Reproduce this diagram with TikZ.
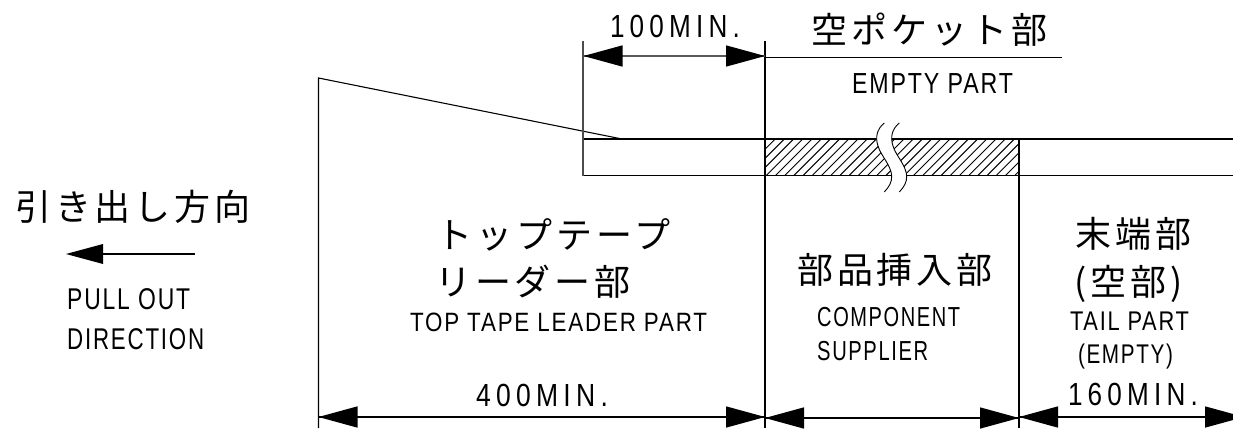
\documentclass[tikz,border=0pt]{standalone}
\usepackage{fontspec}
\usepackage{graphicx}
\setmainfont{Liberation Sans}
\newfontfamily\cjk[LetterSpace=11]{Noto Sans CJK JP}
\newcommand\wtxt[2]{\resizebox{#1pt}{\height}{#2}}
\tikzset{
  x=1pt,y=-1pt,
  line/.style={draw=black,line width=1.1pt},
  dimn/.style={inner sep=0pt,anchor=center,font=\fontsize{32}{32}\selectfont\addfontfeature{LetterSpace=20}},
  sm/.style={inner sep=0pt,anchor=center,font=\fontsize{#1}{#1}\selectfont\addfontfeature{LetterSpace=8}},
  sm/.default=27,
  jp/.style={inner sep=0pt,anchor=center,font=\fontsize{36}{36}\selectfont\cjk},
}
\newcommand\headL[2]{\fill (#1,#2) -- (#1+39,#2-10.7) -- (#1+39,#2+10.7) -- cycle;}
\newcommand\headR[2]{\fill (#1,#2) -- (#1-39,#2-10.7) -- (#1-39,#2+10.7) -- cycle;}
\begin{document}
\begin{tikzpicture}
\useasboundingbox (0,0) rectangle (1233,428);
\clip (0,0) rectangle (1233,428);
% hatch
\begin{scope}
\clip (765,139) rectangle (1019,175.5);
\foreach \i in {0,...,32} {\draw[line width=0.95pt] (725+\i*9.2,180) -- (725+\i*9.2+45,135);}
\end{scope}
% tape
\coordinate (tl) at (583,139);
\coordinate (bl) at (583,175.5);
\coordinate (tr) at (1233,139);
\coordinate (br) at (1233,175.5);
\draw[line] (tl) -- (tr);
\draw[line] (bl) -- (br);
% break
\fill[white] (884.3,123) .. controls (877,129) and (875,137) .. (878,146) .. controls (881,156) and (891,165) .. (891.7,176) .. controls (892,182) and (889,187) .. (884.3,192)
  -- (899.3,192) .. controls (904,187) and (907,182) .. (906.7,176) .. controls (906,165) and (896,156) .. (893,146) .. controls (890,137) and (892,129) .. (899.3,123) -- cycle;
\draw[line width=0.9pt] (884.3,123) .. controls (877,129) and (875,137) .. (878,146) .. controls (881,156) and (891,165) .. (891.7,176) .. controls (892,182) and (889,187) .. (884.3,192);
\draw[line width=0.9pt] (899.3,123) .. controls (892,129) and (890,137) .. (893,146) .. controls (896,156) and (906,165) .. (906.7,176) .. controls (907,182) and (904,187) .. (899.3,192);
% extension lines
\coordinate (e1a) at (318.5,78);
\coordinate (e1b) at (318.5,428);
\coordinate (slant) at (622,139);
\draw[line] (e1b) -- (e1a) -- (slant);
\draw[line,black!70,line width=1.3pt] (583,41) -- (bl);
\draw[line] (765,41) -- (765,428);
\draw[line] (1019,139) -- (1019,176);
\draw[line,line width=1.4pt] (1019,176) -- (1019,428);
\draw[line] (765,57.5) -- (1062,57.5);
% dimensions
\draw[black!65,line width=1.6pt] (583,56) -- (765,56);
\headL{583.5}{56}\headR{765}{56}
\draw[line] (318.5,417) -- (765,417);
\headL{318.5}{417}\headR{765}{417}
\draw[line] (765,418) -- (1019,418);
\headL{765}{418}\headR{1019}{418}
\draw[line] (1019,417) -- (1233,417);
\headL{1019}{417}\headR{1244}{417}
\draw[line width=1.6pt] (103,254) -- (195,254);
\fill (66,254) -- (103,244) -- (103,264) -- cycle;
% text
\node[dimn] (t100) at (675,26.5) {\wtxt{130}{100MIN.}};
\node[jp] (tempty) at (929.5,29.5) {空ポケット部};
\node[sm=29] (eempty) at (932.5,83.5) {\wtxt{161}{EMPTY PART}};
\node[jp] (tpull) at (133,206.5) {引き出し方向};
\node[sm=30,anchor=west] (epull) at (67,299) {\wtxt{123}{PULL OUT}};
\node[sm=30,anchor=west] (edir) at (67,339) {\wtxt{137}{DIRECTION}};
\node[jp] (tlead1) at (553.5,234.5) {トップテープ};
\node[jp] (tlead2) at (533,282) {リーダー部};
\node[sm=26.5] (elead) at (558.5,322.5) {\wtxt{297}{TOP TAPE LEADER PART}};
\node[jp] (tcomp) at (895,269.5) {部品挿入部};
\node[sm=27.5,anchor=west] (ecomp1) at (817,317.5) {\wtxt{143}{COMPONENT}};
\node[sm=27.5,anchor=west] (ecomp2) at (817,351.5) {\wtxt{111}{SUPPLIER}};
\node[jp] (ttail1) at (1133.5,234) {末端部};
\node[jp] (ttail2) at (1128.5,283.5) {(空部)};
\node[sm=27] (etail1) at (1129.5,321.5) {\wtxt{119}{TAIL PART}};
\node[sm=27] (etail2) at (1125.5,357) {\wtxt{95}{(EMPTY)}};
\node[dimn] (t400) at (542,395) {\wtxt{132}{400MIN.}};
\node[dimn] (t160) at (1133,394.5) {\wtxt{130}{160MIN.}};
\end{tikzpicture}
\end{document}
